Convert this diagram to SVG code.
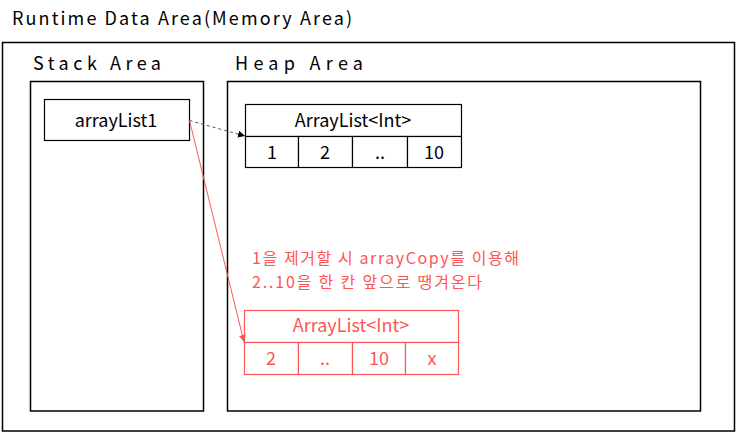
<svg xmlns="http://www.w3.org/2000/svg" width="736" height="432" viewBox="0 0 736 432">
<defs>
<style>
text{font-family:"Noto Sans CJK KR","Malgun Gothic","Noto Sans",sans-serif;}
.frame{fill:none;stroke:#000;stroke-width:1.5;}
.cell{fill:#fff;stroke:#000;stroke-width:1.2;}
.rcell{fill:#fff;stroke:#ff5555;stroke-width:1.2;}
.lbl{font-size:18px;fill:#000;text-anchor:middle;}
.rlbl{font-size:18px;fill:#ff5555;text-anchor:middle;}
.head{font-size:18px;fill:#000;}
</style>
<marker id="ab" viewBox="0 0 10 10" refX="10" refY="5" markerWidth="7" markerHeight="7" orient="auto" markerUnits="userSpaceOnUse"><path d="M0,0 L10,5 L0,10 z" fill="#000"/></marker>
<marker id="ar" viewBox="0 0 10 10" refX="10" refY="5" markerWidth="7" markerHeight="7" orient="auto" markerUnits="userSpaceOnUse"><path d="M0,0 L10,5 L0,10 z" fill="#ff5555"/></marker>
</defs>
<rect width="736" height="432" fill="#fff"/>
<g id="runtime">
<text class="head" x="12" y="25" textLength="340" lengthAdjust="spacing">Runtime Data Area(Memory Area)</text>
<rect class="frame" x="2.5" y="42.5" width="732" height="388.5"/>
</g>
<g id="stack">
<text class="head" x="33" y="70" textLength="128" lengthAdjust="spacing">Stack Area</text>
<rect class="frame" x="30.5" y="81.5" width="173" height="329.5"/>
</g>
<g id="heap">
<text class="head" x="235" y="70" textLength="128" lengthAdjust="spacing">Heap Area</text>
<rect class="frame" x="227.5" y="81.5" width="473" height="329.5"/>
</g>
<g id="arrayList1">
<rect class="cell" x="44.5" y="99.5" width="145" height="41"/>
<text class="lbl" x="116" y="127">arrayList1</text>
</g>
<g id="heapArray">
<rect class="cell" x="245.5" y="104.5" width="216" height="32"/>
<text class="lbl" x="353" y="127">ArrayList&lt;Int&gt;</text>
<rect class="cell" x="245.5" y="136.5" width="53" height="31"/>
<rect class="cell" x="298.5" y="136.5" width="54" height="31"/>
<rect class="cell" x="352.5" y="136.5" width="55" height="31"/>
<rect class="cell" x="407.5" y="136.5" width="54" height="31"/>
<text class="lbl" x="272" y="159">1</text>
<text class="lbl" x="325" y="159">2</text>
<text class="lbl" x="380" y="159">..</text>
<text class="lbl" x="434" y="159">10</text>
</g>
<g id="note">
<text x="252" y="264" font-size="16" fill="#ff5555" textLength="267" lengthAdjust="spacing">1을 제거할 시 arrayCopy를 이용해</text>
<text x="252" y="288" font-size="16" fill="#ff5555" textLength="230" lengthAdjust="spacing">2..10을 한 칸 앞으로 땡겨온다</text>
</g>
<g id="newArray">
<rect class="rcell" x="244.5" y="310.5" width="214" height="32"/>
<text class="rlbl" x="351" y="332">ArrayList&lt;Int&gt;</text>
<rect class="rcell" x="244.5" y="342.5" width="54" height="32"/>
<rect class="rcell" x="298.5" y="342.5" width="54" height="32"/>
<rect class="rcell" x="352.5" y="342.5" width="53" height="32"/>
<rect class="rcell" x="405.5" y="342.5" width="53" height="32"/>
<text class="rlbl" x="271" y="365">2</text>
<text class="rlbl" x="325" y="365">..</text>
<text class="rlbl" x="379" y="365">10</text>
<text class="rlbl" x="432" y="365">x</text>
</g>
<g id="connectors">
<line x1="189.5" y1="120.5" x2="245" y2="136" stroke="#555" stroke-width="1" stroke-dasharray="3,3" marker-end="url(#ab)"/>
<line x1="189.5" y1="120.5" x2="244" y2="342" stroke="#ff5555" stroke-width="1" marker-end="url(#ar)"/>
</g>
</svg>
